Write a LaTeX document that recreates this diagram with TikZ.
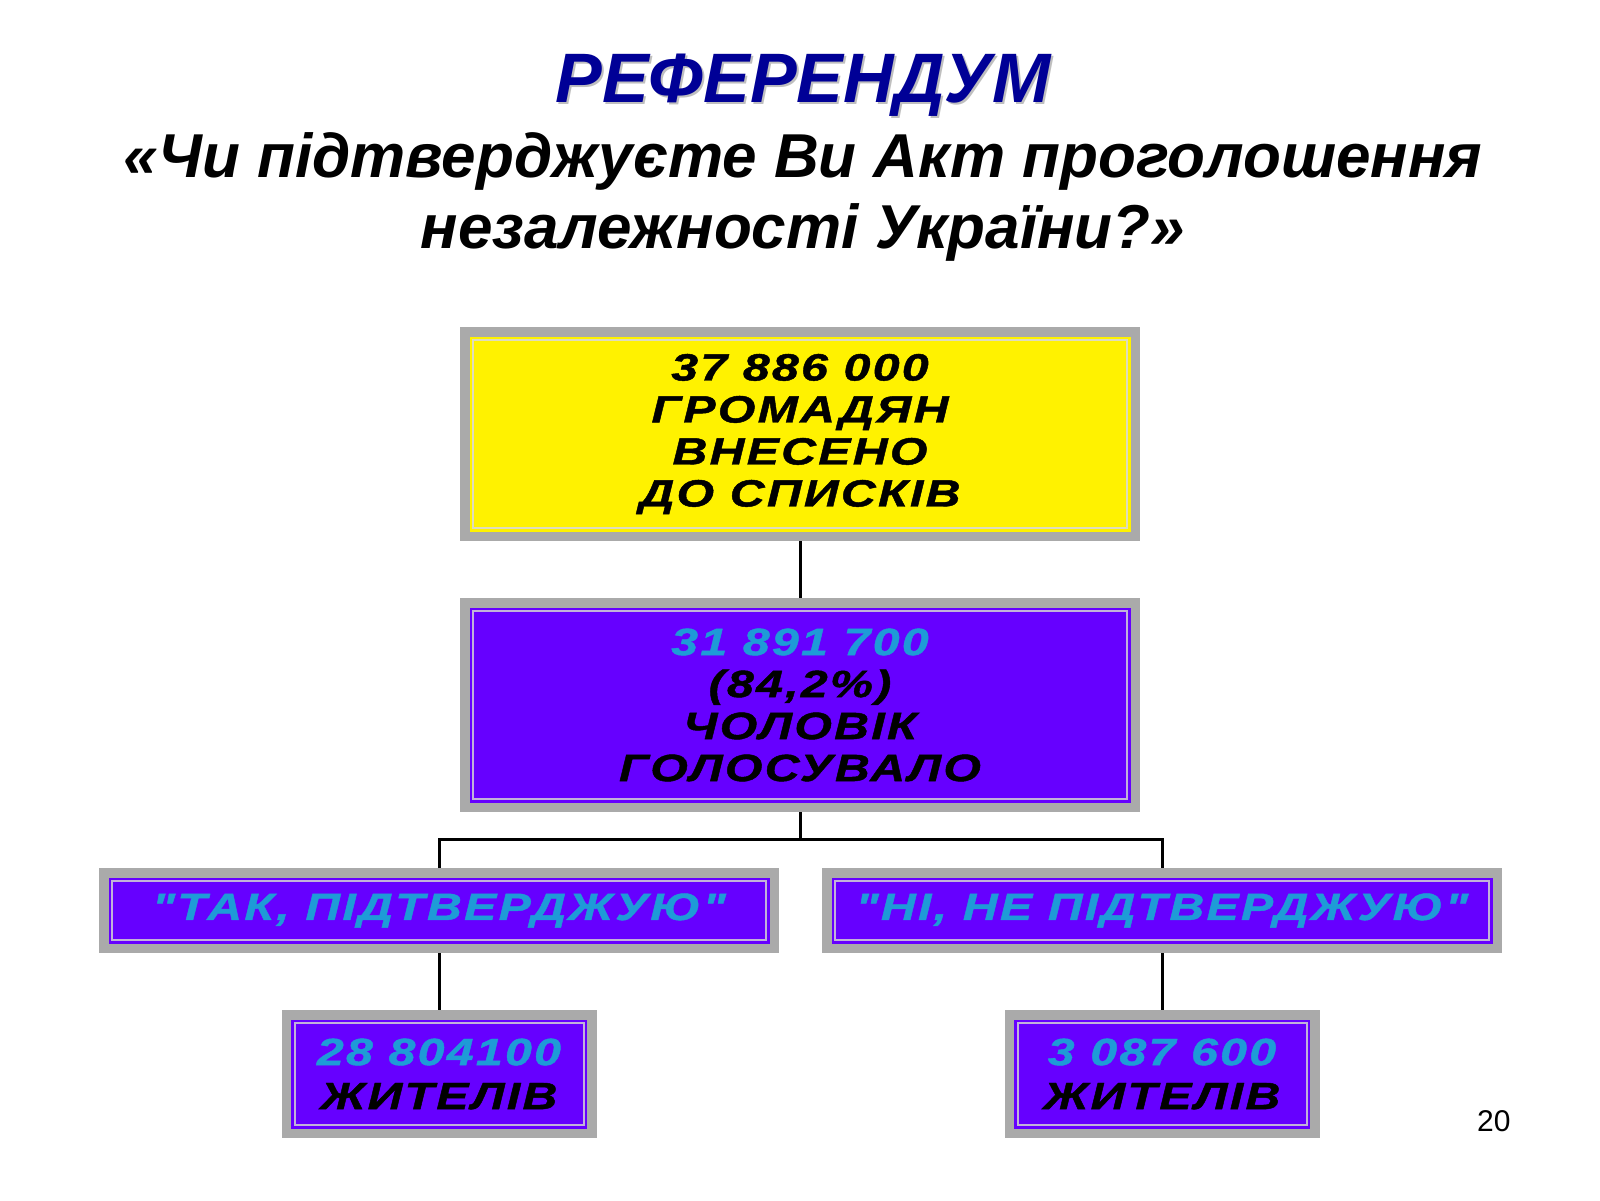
\documentclass[tikz,border=0pt]{standalone}
\usepackage{fontspec}
\setmainfont{Liberation Sans}
\newfontfamily\widefont[FakeStretch=1.27,LetterSpace=6,FakeBold=1.2]{Liberation Sans}
\usetikzlibrary{positioning}
\definecolor{framegray}{RGB}{170,170,170}
\definecolor{violetbox}{RGB}{102,0,255}
\definecolor{cyantext}{RGB}{30,155,215}
\definecolor{navy}{RGB}{0,0,150}
\newcommand\numtext[1]{\textcolor{cyantext}{#1}}

\begin{document}
\begin{tikzpicture}[x=0.5pt,y=-0.5pt,node distance=28.5pt,
    box/.style={rectangle,fill=#1,draw=#1!25!framegray!60!white,line width=1pt,
      preaction={draw=framegray,line width=13pt},
      preaction={draw=#1,line width=3.5pt},
      outer sep=6.5pt,inner sep=0pt,align=center,
      font=\widefont\bfseries\itshape\fontsize{19pt}{21pt}\selectfont},
    ybox/.style={box=yellow,minimum width=327pt,minimum height=94pt},
    vbox/.style={box=violetbox,minimum width=327pt,minimum height=94pt},
    vwide/.style={box=violetbox,minimum width=327pt,minimum height=29.5pt},
    vsmall/.style={box=violetbox,minimum width=144.5pt,minimum height=51pt,
      font=\widefont\bfseries\itshape\fontsize{19pt}{22pt}\selectfont},
    titlefont/.style={font=\bfseries\itshape\fontsize{35pt}{38pt}\selectfont,anchor=base},
    link/.style={line width=1.5pt,black}]

  \fill[white] (0,0) rectangle (1600,1200);
  \useasboundingbox (0,0) rectangle (1600,1200);

  \node[titlefont,text=black!25] (shadow) at (805,104) {РЕФЕРЕНДУМ};
  \node[titlefont,text=navy] (title) at (803,102) {РЕФЕРЕНДУМ};
  \node[font=\bfseries\itshape\fontsize{31pt}{35.5pt}\selectfont,align=center]
    (question) at (803,197) {«Чи підтверджуєте Ви Акт проголошення\\незалежності України?»};

  \node[ybox] (list) at (800,434) {37 886 000\\ГРОМАДЯН\\ВНЕСЕНО\\ДО СПИСКІВ};
  \node[vbox] (voted) [below=of list] {\numtext{31 891 700}\\(84,2\%)\\ЧОЛОВІК\\ГОЛОСУВАЛО};
  \node[vwide] (yes) at (439,910.5) {\numtext{"ТАК, ПІДТВЕРДЖУЮ"}};
  \node[vwide] (no) at (1162,910.5) {\numtext{"НІ, НЕ ПІДТВЕРДЖУЮ"}};
  \node[vsmall] (yesnum) [below=of yes] {\numtext{28 804100}\\ЖИТЕЛІВ};
  \node[vsmall] (nonum) [below=of no] {\numtext{3 087 600}\\ЖИТЕЛІВ};
  \coordinate (fork) at (800,839);

  \draw[link] (list) -- (voted);
  \draw[link] (voted) -- (fork);
  \draw[link] (yes) |- (fork) -| (no);
  \draw[link] (yes) -- (yesnum);
  \draw[link] (no) -- (nonum);

  \node[font=\fontsize{15pt}{18pt}\selectfont,anchor=base west] (page) at (1470,1131) {20};

\end{tikzpicture}
\end{document}
